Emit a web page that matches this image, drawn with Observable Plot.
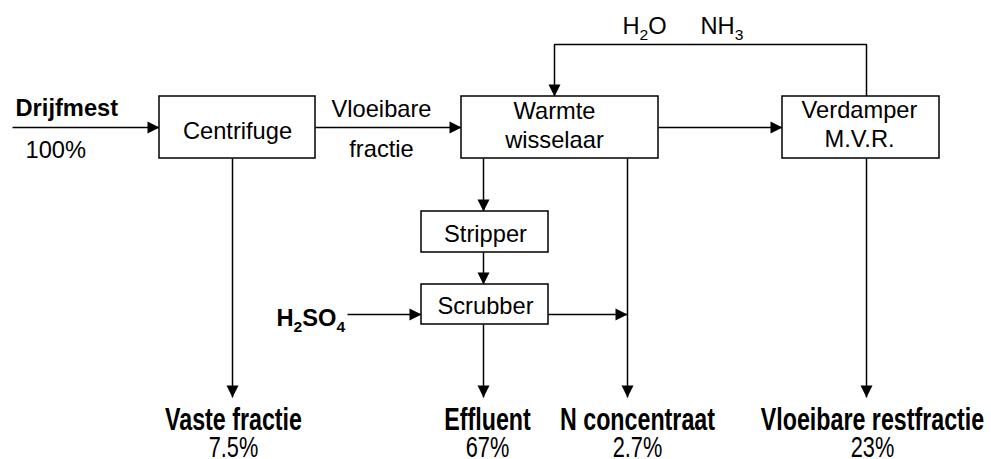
<!DOCTYPE html>
<html><head><meta charset="utf-8">
<script src="https://cdn.jsdelivr.net/npm/d3@7"></script>
<script src="https://cdn.jsdelivr.net/npm/@observablehq/plot@0.6"></script>
<style>html,body{margin:0;padding:0;background:#fff}</style>
</head><body><div id="chart"></div>
<script>
// ---- data ----
const inputName = "Drijfmest";
const inputShare = 100;
const units = ["Centrifuge", "Warmte\nwisselaar", "Verdamper\nM.V.R.", "Stripper", "Scrubber"];
const liquidFraction = ["Vloeibare", "fractie"];
const vapours = ["H₂O", "NH₃"];
const acid = "H₂SO₄";
const outputs = ["Vaste fractie", "Effluent", "N concentraat", "Vloeibare restfractie"];
const outputShares = [7.5, 67, 2.7, 23];

// ---- layout (diagram coordinates, px) ----
const unitLeft = [159, 461, 782, 421, 421];
const unitRight = [315, 658, 939, 548, 548];
const unitTop = [96, 96, 96, 211, 284];
const unitBottom = [158, 158, 158, 252, 324];
const unitTextX = [237, 554, 859, 485, 485];
const unitTextY = [138, 118, 117, 241, 313];
const liquidY = [116, 156];
const vapourX = [622, 700];
const outputX = [233, 487, 637, 872];
const flowPaths = [
  [[12,127],[159,127]],
  [[315,127],[461,127]],
  [[658,127],[782,127]],
  [[866,96],[866,44],[554,44],[554,96]],
  [[483,158],[483,211]],
  [[483,252],[483,284]],
  [[347,314],[421,314]],
  [[548,314],[627,314]],
  [[232,158],[232,397]],
  [[483,324],[483,397]],
  [[627,158],[627,397]],
  [[866,158],[866,397]]
];
const LINE = 29;

// ---- tables built from the arrays ----
const boxes = units.map((u, i) => ({u, x1: unitLeft[i], x2: unitRight[i], y1: unitTop[i], y2: unitBottom[i]}));
const unitLines = units.flatMap((u, i) => u.split("\n").map((t, k) => ({t, x: unitTextX[i], y: unitTextY[i] + k * LINE})));
const liquidRows = liquidFraction.map((t, i) => ({t, y: liquidY[i]}));
const vapourRows = vapours.map((t, i) => ({t, x: vapourX[i]}));
const flowPoints = flowPaths.flatMap((p, id) => p.map(([x, y]) => ({id, x, y})));
const heads = flowPaths.map(p => {
  const [x0, y0] = p[p.length - 2], [x1, y1] = p[p.length - 1];
  return {x: x1, y: y1, r: Math.atan2(x1 - x0, -(y1 - y0)) * 180 / Math.PI};
});
const outRows = outputs.map((o, i) => ({o, s: outputShares[i], x: outputX[i]}));

const FONT = "'Liberation Sans', Arial, Helvetica, sans-serif";
const FS = 23;

const chart = Plot.plot({
  width: 991, height: 459, margin: 0,
  x: {domain: [0, 991], range: [0, 991], axis: null},
  y: {domain: [0, 459], range: [0, 459], axis: null},
  style: {fontFamily: FONT, background: "#fff", color: "#000"},
  marks: [
    Plot.line(flowPoints, {x: "x", y: "y", z: "id", stroke: "#000", strokeWidth: 1.5, strokeLinejoin: "miter", strokeLinecap: "butt"}),
    Plot.rect(boxes, {x1: "x1", x2: "x2", y1: "y1", y2: "y2", fill: "#fff", stroke: "#000", strokeWidth: 1.5}),
    Plot.vector(heads, {x: "x", y: "y", rotate: "r", length: 12, r: 6, shape: "spike", anchor: "end", fill: "#000", stroke: "none"}),
    // upper texts (text marks 0..5)
    Plot.text(unitLines, {x: "x", y: "y", text: "t", fontSize: FS, lineAnchor: "bottom", textAnchor: "middle"}),
    Plot.text(liquidRows, {x: () => 381, y: "y", text: "t", fontSize: FS, lineAnchor: "bottom", textAnchor: "middle"}),
    Plot.text(vapourRows, {x: "x", y: () => 33, text: "t", fontSize: FS, lineAnchor: "bottom", textAnchor: "start"}),
    Plot.text([acid], {x: () => 276, y: () => 325, text: d => d, fontSize: FS, fontWeight: "bold", lineAnchor: "bottom", textAnchor: "start"}),
    Plot.text([inputName], {x: () => 15, y: () => 115, text: d => d, fontSize: FS, fontWeight: "bold", lineAnchor: "bottom", textAnchor: "start"}),
    Plot.text([inputShare], {x: () => 25, y: () => 157, text: d => `${d}%`, fontSize: FS, lineAnchor: "bottom", textAnchor: "start"}),
    // bottom texts (text marks 6..7)
    Plot.text(outRows, {x: "x", y: () => 429, text: "o", fontSize: 31, fontWeight: "bold", lineAnchor: "bottom", textAnchor: "middle"}),
    Plot.text(outRows, {x: "x", y: () => 456, text: d => `${d.s}%`, fontSize: 29, lineAnchor: "bottom", textAnchor: "middle"})
  ]
});

function stretchGroup(g, sx) {
  g.querySelectorAll("text").forEach(t => {
    const tr = t.getAttribute("transform");
    if (tr) t.setAttribute("transform", tr + ` scale(${sx},1)`);
    else {
      const x = +t.getAttribute("x") || 0, y = +t.getAttribute("y") || 0;
      t.setAttribute("transform", `translate(${x},${y}) scale(${sx},1)`);
      t.removeAttribute("x"); t.removeAttribute("y");
    }
  });
}
function subscripts(svg) {
  const NS = "http://www.w3.org/2000/svg";
  svg.querySelectorAll("text").forEach(t => {
    const s = t.textContent;
    if (!/[\u2080-\u2089]/.test(s)) return;
    t.textContent = "";
    let shifted = false;
    s.match(/[\u2080-\u2089]+|[^\u2080-\u2089]+/g).forEach(r => {
      const sub = /[\u2080-\u2089]/.test(r);
      const ts = document.createElementNS(NS, "tspan");
      ts.textContent = sub ? r.replace(/[\u2080-\u2089]/g, c => String.fromCharCode(c.charCodeAt(0) - 0x2080 + 48)) : r;
      if (sub) { ts.setAttribute("font-size", FS * 0.66); ts.setAttribute("dy", 6); shifted = true; }
      else if (shifted) { ts.setAttribute("dy", -6); shifted = false; }
      t.appendChild(ts);
    });
  });
}
const textGroups = Array.from(chart.querySelectorAll('g[aria-label="text"]'));
textGroups.forEach((g, i) => stretchGroup(g, i < 6 ? 1.03 : 0.75));
subscripts(chart);
document.getElementById("chart").appendChild(chart);
</script>
</body></html>
